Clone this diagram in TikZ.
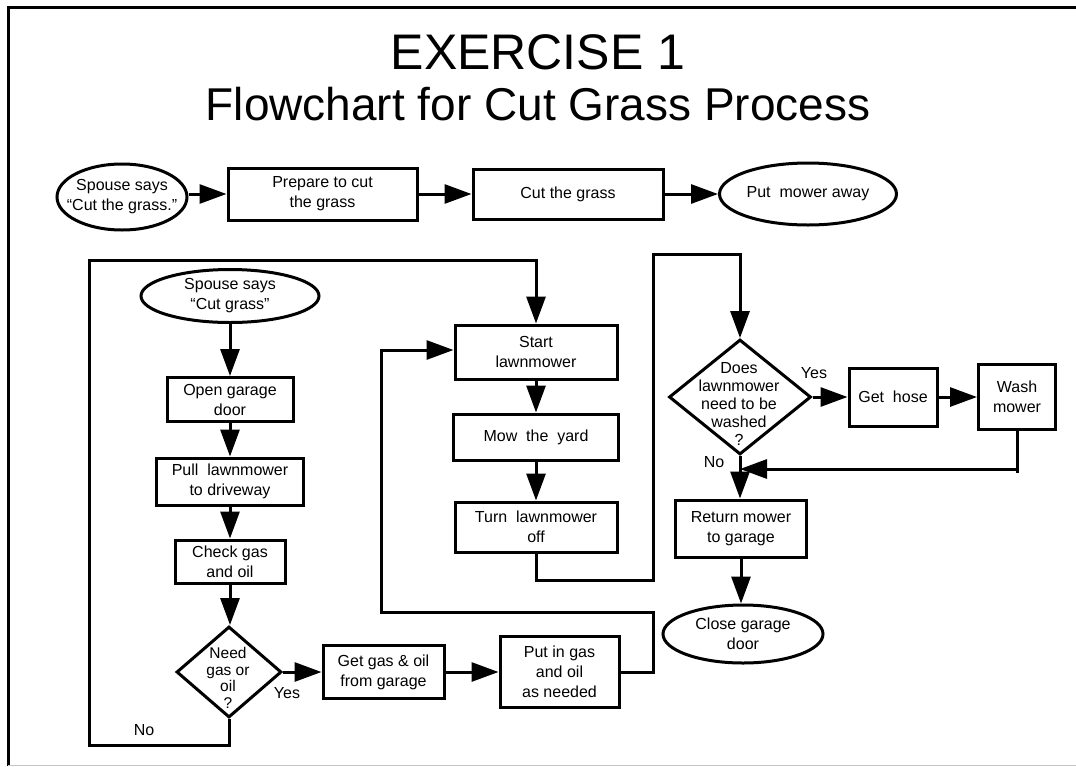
\documentclass[tikz,border=0pt]{standalone}
\usepackage{fontspec}
\setmainfont{Liberation Sans}
\usetikzlibrary{shapes.geometric,arrows.meta}
\begin{document}
\begin{tikzpicture}[x=1pt,y=-1pt,
  line width=3pt,
  box/.style={draw, rectangle, inner sep=2pt, align=center, font=\fontsize{16}{20}\selectfont},
  ell/.style={draw, ellipse, inner sep=0pt},
  dia/.style={draw, diamond, inner sep=0pt},
  txt/.style={inner sep=0pt, align=center, font=\fontsize{16}{20}\selectfont},
  lbl/.style={inner sep=0pt, font=\fontsize{16}{18}\selectfont},
  arr/.style={-{Triangle[length=27pt,width=19pt]}}
]
\useasboundingbox (0,0) rectangle (1076,766);
% frame
\draw (1076,7) -- (8,7) -- (8,766);
\draw[gray!45, line width=1pt] (8,765) -- (1076,765);
% title
\node[font=\fontsize{50}{60}\selectfont] (t1) at (538,52) {EXERCISE 1};
\node[font=\fontsize{46}{55}\selectfont] (t2) at (538,104) {Flowchart for Cut Grass Process};
% top row
\node[ell, minimum width=130, minimum height=66] (e1) at (122,197) {};
\node[txt] (e1t) at (e1) {Spouse says\\“Cut the grass.”};
\node[box, minimum width=189, minimum height=52] (p1) at (322.5,194) {Prepare to cut\\the grass};
\node[box, minimum width=190, minimum height=50] (c1) at (568,194) {Cut the grass};
\node[ell, minimum width=177, minimum height=62] (e2) at (808,194) {};
\node[txt] (e2t) at (e2) {Put~ mower away};
\draw[arr] (e1.east |- p1.west) -- (p1.west);
\draw[arr] (p1) -- (c1);
\draw[arr] (c1) -- (e2);
% left column
\node[ell, minimum width=178, minimum height=53] (e3) at (230,296) {};
\node[txt] (e3t) at (e3) {Spouse says\\“Cut grass”};
\node[box, minimum width=126, minimum height=44] (o1) at (230,399.5) {Open garage\\door};
\node[box, minimum width=147, minimum height=47] (p2) at (230,481.5) {Pull~ lawnmower\\to driveway};
\node[box, minimum width=110, minimum height=43] (cg) at (230,561.5) {Check gas\\and oil};
\node[dia, minimum width=105, minimum height=91] (d1) at (229,672) {};
\node[txt, font=\fontsize{15.5}{16.5}\selectfont] (d1t) at (228,678) {Need\\gas or\\oil\\?};
\draw[arr] (e3) -- (o1);
\draw[arr] (o1) -- (p2);
\draw[arr] (p2) -- (cg);
\draw[arr] (cg.south) -- (cg.south |- d1.north);
\node[box, minimum width=121, minimum height=53] (gg) at (383.5,672) {Get gas \& oil\\from garage};
\node[box, minimum width=119, minimum height=71] (pg) at (559.5,672) {Put in gas\\and oil\\as needed};
\draw[arr] (d1) -- (gg);
\draw[arr] (gg) -- (pg);
\node[lbl] (yes1) at (287,693) {Yes};
\node[lbl] (no1) at (144,730) {No};
% middle column
\node[box, minimum width=162, minimum height=54] (sl) at (536,352) {Start\\lawnmower};
\node[box, minimum width=165, minimum height=46] (my) at (536,437) {Mow~ the~ yard};
\node[box, minimum width=162, minimum height=50] (to) at (536,527) {Turn~ lawnmower\\off};
\draw[arr] (sl) -- (my);
\draw[arr] (my) -- (to);
% right column
\node[dia, minimum width=142, minimum height=115] (d2) at (740,397) {};
\node[txt, font=\fontsize{16}{18}\selectfont] (d2t) at (739,404) {Does\\lawnmower\\need to be\\washed\\?};
\node[box, minimum width=88, minimum height=58] (gh) at (893,397) {Get~ hose};
\node[box, minimum width=77, minimum height=65] (wm) at (1017,397) {Wash\\mower};
\draw[arr] (d2) -- (gh);
\draw[arr] (gh) -- (wm);
\node[lbl] (yes2) at (814,373) {Yes};
\node[lbl] (no2) at (714,462) {No};
\node[box, minimum width=131, minimum height=57] (rm) at (741,528.5) {Return mower\\to garage};
\node[ell, minimum width=160, minimum height=58] (e4) at (743,634) {};
\node[txt] (e4t) at (e4) {Close garage\\door};
\coordinate (wj) at ([yshift=-38pt]wm.south);
\draw (wm.south) -- ([yshift=-42pt]wm.south);
\draw[arr] (wj) -- (d2.south |- wj);
\draw[arr] (d2.south) -- (d2.south |- rm.north);
\draw[arr] (rm.south) -- (rm.south |- e4.north);
% loops
\draw[arr] (d1.south) -- (229,745) -| (89,260) -| (sl.north);
\draw[arr] (pg.east) -| (653,612) -| (381,350) -- (sl.west |- 0,350);
\draw[arr] (to.south) |- (653,580) |- (740,254) -- (d2.north);
\end{tikzpicture}
\end{document}
